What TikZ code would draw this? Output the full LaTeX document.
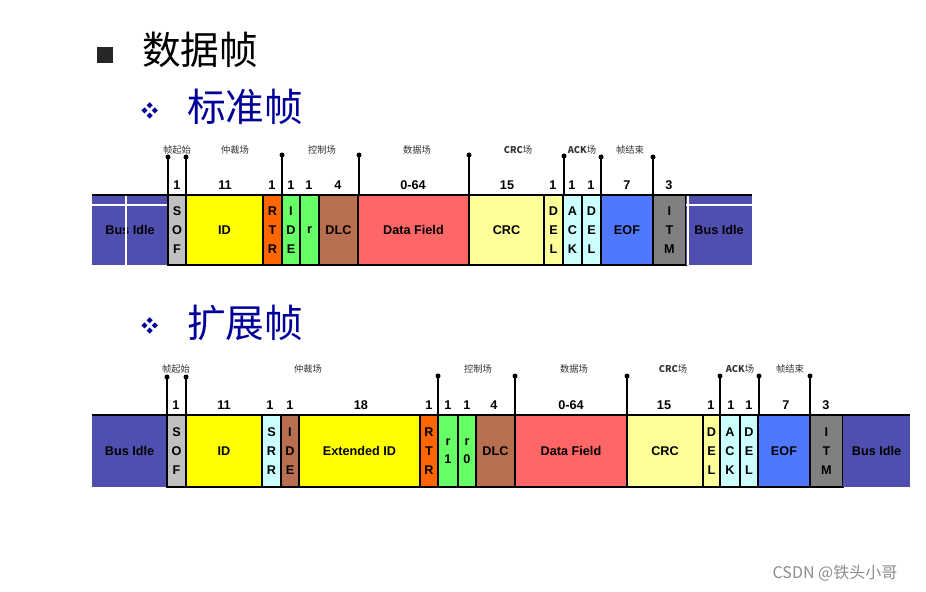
\documentclass[tikz,border=0pt]{standalone}
\usepackage{fontspec}
\setmainfont{Liberation Sans}
\newfontfamily\cjk{Noto Sans CJK SC}
\definecolor{busc}{HTML}{4F4FAF}
\definecolor{sofc}{HTML}{C0C0C0}
\definecolor{idc}{HTML}{FFFF00}
\definecolor{rtrc}{HTML}{FF6600}
\definecolor{grc}{HTML}{66FF66}
\definecolor{dlcc}{HTML}{B86F50}
\definecolor{dfc}{HTML}{FF6666}
\definecolor{crcc}{HTML}{FFFF99}
\definecolor{ackc}{HTML}{CCFFFF}
\definecolor{eofc}{HTML}{5078FF}
\definecolor{itmc}{HTML}{808080}
\definecolor{ttl}{HTML}{000099}
\newcommand\yt{195}\newcommand\yb{265}
\newcommand\Fld[6][draw=black]{\node[fld,#1,fill=#5,minimum width={(#4-#3)*0.75pt},minimum height={(\yb-\yt)*0.75pt}] (#2) at ({(#3+#4)/2},{(\yt+\yb)/2}) {#6};}
\newcommand\Num[3]{\node[num] (#1) at (#2,{\yt-10}) {#3};}
\newcommand\Mk[3]{\coordinate (#1) at (#2,#3); \fill (#1) circle (2.5); \draw[line width=1.5pt] (#1) -- (#2,\yt);}
\begin{document}
\begin{tikzpicture}[x=0.75pt,y=-0.75pt,
 fld/.style={inner sep=0pt,outer sep=0pt,line width=1.8pt,font=\bfseries\fontsize{9.5}{14}\selectfont,align=center},
 num/.style={font=\bfseries\fontsize{9.5}{10}\selectfont,inner sep=0pt},
 lab/.style={font=\cjk\fontsize{7}{8}\selectfont,inner sep=0pt,text=black!80},
 tt/.style={font=\cjk\fontsize{29}{30}\selectfont,inner sep=0pt,anchor=west}]
\useasboundingbox (0,0) rectangle (926,592);
\node[tt] (t1) at (142,50) {数据帧};
\fill[black!85] (97,47) rectangle (113,63);
\node[tt,text=ttl] (t2) at (187,107) {标准帧};
\node[text=ttl,font=\fontsize{13}{13}\selectfont\cjk] (d1) at (150,111) {❖};
\node[tt,text=ttl] (t3) at (187,323) {扩展帧};
\node[text=ttl,font=\fontsize{13}{13}\selectfont\cjk] (d2) at (150,326) {❖};
% standard frame
\renewcommand\yt{195}\renewcommand\yb{265}
\Fld[draw=none]{b1}{92}{168}{busc}{Bus Idle}
\draw[white,line width=0.8pt] (126,195)--(126,265) (92,205)--(168,205);
\Fld{sof}{168}{186}{sofc}{S\\O\\F}
\Fld{id}{186}{263}{idc}{ID}
\Fld{rtr}{263}{282}{rtrc}{R\\T\\R}
\Fld{ide}{282}{300}{grc}{I\\D\\E}
\Fld{r}{300}{319}{grc}{r}
\Fld{dlc}{319}{358}{dlcc}{DLC}
\Fld{df}{358}{469}{dfc}{Data Field}
\Fld{crc}{469}{544}{crcc}{CRC}
\Fld{del1}{544}{563}{crcc}{D\\E\\L}
\Fld{ack}{563}{582}{ackc}{A\\C\\K}
\Fld{del2}{582}{601}{ackc}{D\\E\\L}
\Fld{eof}{601}{653}{eofc}{EOF}
\Fld{itm}{653}{686}{itmc}{I\\T\\M}
\Fld[draw=none]{b2}{686}{752}{busc}{Bus Idle}
\draw[white,line width=0.8pt] (688,195)--(688,265) (686,205)--(752,205);
\draw[line width=2pt] (92,195)--(752,195);
\Num{n1}{177}{1}\Num{n2}{225}{11}\Num{n3}{272}{1}\Num{n4}{291}{1}\Num{n5}{309}{1}\Num{n6}{338}{4}\Num{n7}{413}{0-64}\Num{n8}{507}{15}\Num{n9}{553}{1}\Num{n10}{572}{1}\Num{n11}{591}{1}\Num{n12}{627}{7}\Num{n13}{669}{3}
\Mk{m1}{168}{157}\Mk{m2}{186}{157}\Mk{m3}{282}{155}\Mk{m4}{359}{155}\Mk{m5}{469}{155}\Mk{m6}{564}{156}\Mk{m7}{601}{157}\Mk{m8}{653}{157}
\node[lab] (l1) at (177,150) {帧起始};
\node[lab] (l2) at (235,150) {仲裁场};
\node[lab] (l3) at (322,150) {控制场};
\node[lab] (l4) at (417,150) {数据场};
\node[lab] (l5) at (518,150) {\textbf{CRC}场};
\node[lab] (l6) at (582,150) {\textbf{ACK}场};
\node[lab] (l7) at (630,150) {帧结束};
% extended frame
\renewcommand\yt{415}\renewcommand\yb{487}
\Fld[draw=none]{e0}{92}{167}{busc}{Bus Idle}
\Fld{esof}{167}{186}{sofc}{S\\O\\F}
\Fld{eid}{186}{262}{idc}{ID}
\Fld{esrr}{262}{281}{ackc}{S\\R\\R}
\Fld{eide}{281}{299}{dlcc}{I\\D\\E}
\Fld{eext}{299}{420}{idc}{Extended ID}
\Fld{ertr}{420}{438}{rtrc}{R\\T\\R}
\Fld{er1}{438}{458}{grc}{r\\1}
\Fld{er0}{458}{476}{grc}{r\\0}
\Fld{edlc}{476}{515}{dlcc}{DLC}
\Fld{edf}{515}{627}{dfc}{Data Field}
\Fld{ecrc}{627}{703}{crcc}{CRC}
\Fld{edel1}{703}{720}{crcc}{D\\E\\L}
\Fld{eack}{720}{740}{ackc}{A\\C\\K}
\Fld{edel2}{740}{758}{ackc}{D\\E\\L}
\Fld{eeof}{758}{810}{eofc}{EOF}
\Fld{eitm}{810}{843}{itmc}{I\\T\\M}
\Fld[draw=none]{e1}{843}{910}{busc}{Bus Idle}
\draw[line width=2pt] (92,415)--(910,415);
\Num{k1}{176}{1}\Num{k2}{224}{11}\Num{k3}{270}{1}\Num{k4}{290}{1}\Num{k5}{361}{18}\Num{k6}{429}{1}\Num{k7}{448}{1}\Num{k8}{467}{1}\Num{k9}{494}{4}\Num{k10}{571}{0-64}\Num{k11}{664}{15}\Num{k12}{711}{1}\Num{k13}{731}{1}\Num{k14}{749}{1}\Num{k15}{786}{7}\Num{k16}{826}{3}
\Mk{p1}{167}{377}\Mk{p2}{186}{377}\Mk{p3}{438}{376}\Mk{p4}{515}{376}\Mk{p5}{627}{376}\Mk{p6}{720}{376}\Mk{p7}{759}{376}\Mk{p8}{810}{376}
\node[lab] (q1) at (176,369) {帧起始};
\node[lab] (q2) at (308,369) {仲裁场};
\node[lab] (q3) at (478,369) {控制场};
\node[lab] (q4) at (574,369) {数据场};
\node[lab] (q5) at (673,369) {\textbf{CRC}场};
\node[lab] (q6) at (740,369) {\textbf{ACK}场};
\node[lab] (q7) at (790,369) {帧结束};
\node[font=\cjk\fontsize{12}{12}\selectfont,text=black!45,inner sep=0pt] (wm) at (835,573) {CSDN @铁头小哥};
\end{tikzpicture}
\end{document}
